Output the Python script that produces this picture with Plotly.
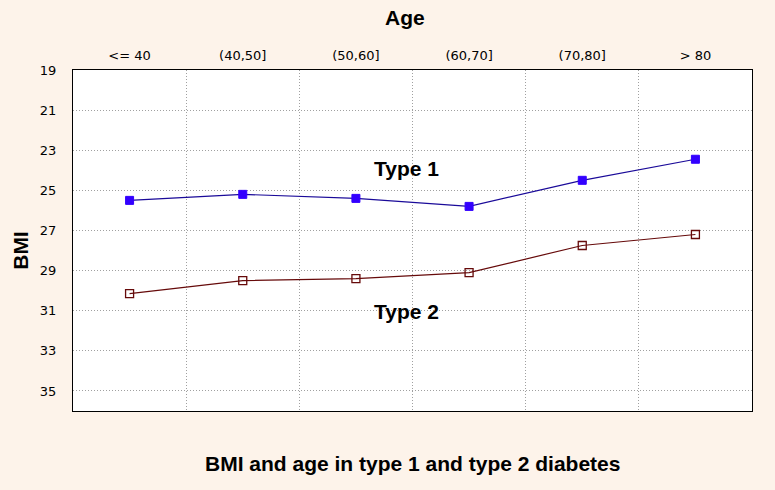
import plotly.graph_objects as go

age_groups = ["<= 40", "(40,50]", "(50,60]", "(60,70]", "(70,80]", "> 80"]
type1_bmi = [25.5, 25.2, 25.4, 25.8, 24.5, 23.45]
type2_bmi = [30.15, 29.5, 29.4, 29.1, 27.75, 27.2]
y_ticks = [19, 21, 23, 25, 27, 29, 31, 33, 35]

FONT = "Liberation Sans, Arial, sans-serif"
TICKFONT = "DejaVu Sans, sans-serif"
BG = "#fdf3ea"

fig = go.Figure()
fig.add_trace(go.Scatter(
    x=age_groups, y=type1_bmi, mode="lines+markers", name="Type 1",
    line=dict(color="#1a0a99", width=1.2),
    marker=dict(symbol="square", size=8, color="#3300ff", line=dict(color="#3300ff", width=1)),
))
fig.add_trace(go.Scatter(
    x=age_groups, y=type2_bmi, mode="lines+markers", name="Type 2",
    line=dict(color="#660a0a", width=1.2),
    marker=dict(symbol="square-open", size=8, color="#660a0a", line=dict(width=1.3)),
))

fig.add_annotation(x=2.45, y=23.9, text="<b>Type 1</b>", showarrow=False,
                   font=dict(size=21, color="#000000", family=FONT), xref="x", yref="y")
fig.add_annotation(x=2.45, y=31.05, text="<b>Type 2</b>", showarrow=False,
                   font=dict(size=21, color="#000000", family=FONT), xref="x", yref="y")

fig.update_layout(
    width=775, height=490,
    paper_bgcolor=BG, plot_bgcolor="#ffffff",
    margin=dict(l=73, r=23, t=70, b=79),
    showlegend=False,
    font=dict(family=FONT, color="#000000", size=12),
    title=dict(text="<b>Age</b>", x=0.5225, xanchor="center", y=0.963, yanchor="middle",
               font=dict(size=21, family=FONT)),
)
fig.add_annotation(text="<b>BMI and age in type 1 and type 2 diabetes</b>", xref="paper", yref="paper",
                   x=0.5, y=-0.155, showarrow=False, yanchor="middle",
                   font=dict(size=21, family=FONT))
fig.add_annotation(text="<b>BMI</b>", xref="paper", yref="paper",
                   x=-0.0765, y=0.47, showarrow=False, textangle=-90,
                   xanchor="center", yanchor="middle",
                   font=dict(size=21, family=FONT))

fig.update_xaxes(
    type="category", side="top", tickson="boundaries", range=[-0.5, 5.5],
    showline=True, mirror=True, linecolor="#000000", linewidth=1,
    showgrid=True, gridcolor="#a0a0a0", griddash="1px,2px", gridwidth=1,
    ticks="", tickfont=dict(size=13, family=TICKFONT), ticklabelstandoff=4,
)
fig.update_yaxes(
    autorange=False, range=[36, 19], tickvals=y_ticks,
    showline=True, mirror=True, linecolor="#000000", linewidth=1,
    showgrid=True, gridcolor="#a0a0a0", griddash="1px,2px", gridwidth=1,
    ticks="", tickfont=dict(size=13, family=TICKFONT), ticklabelstandoff=13,
    zeroline=False,
)

fig.write_html(
    "out.html",
    config={"displayModeBar": False},
    post_script="document.body.style.margin='0';document.body.style.background='%s';" % BG,
)
